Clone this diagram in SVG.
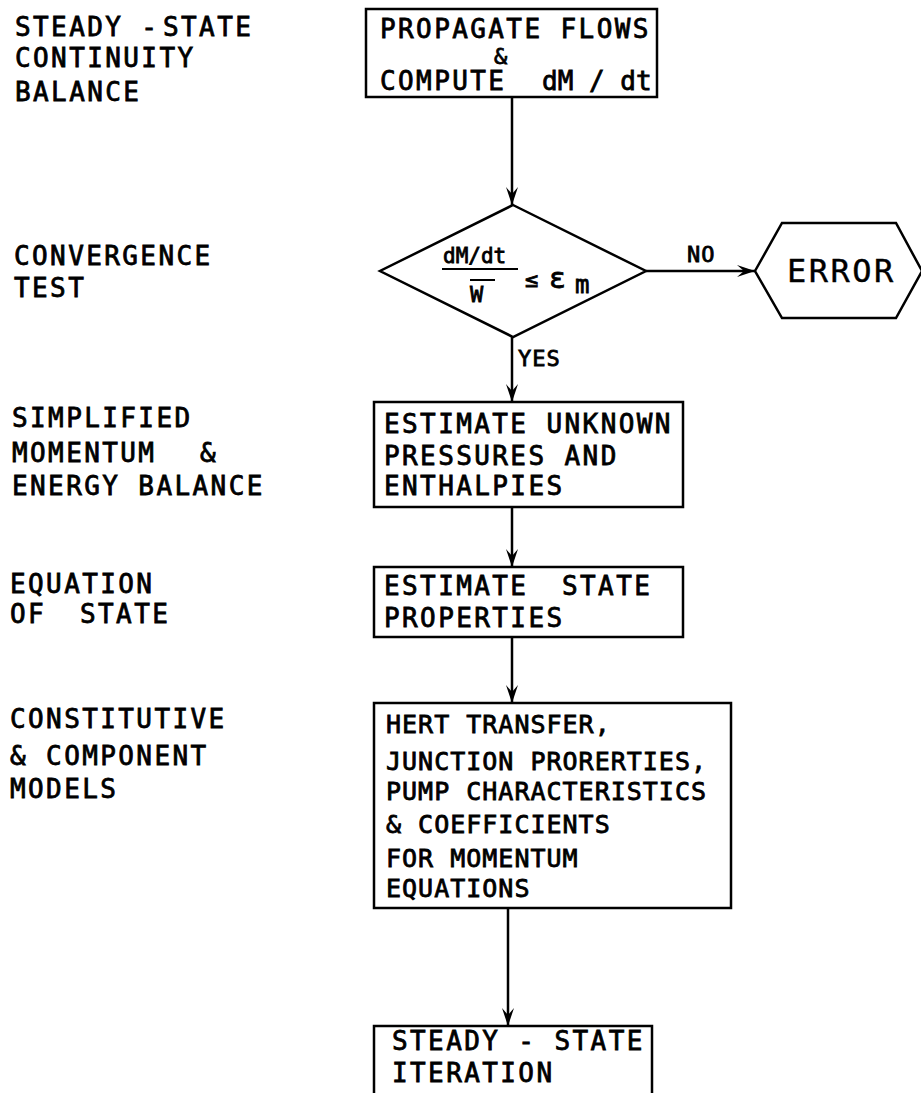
<svg xmlns="http://www.w3.org/2000/svg" width="921" height="1093" viewBox="0 0 921 1093">
  <style>
    .t { font-family: "DejaVu Sans Mono", "Liberation Mono", monospace; font-size: 26px; letter-spacing: 2.4px; fill: #000; stroke: #000; stroke-width: 0.8px; }
    .s { font-size: 25px; letter-spacing: 1px; }
    .box { fill: #fff; stroke: #000; stroke-width: 2.5; }
    .wire { fill: none; stroke: #000; stroke-width: 2.5; }
  </style>
  <defs>
    <marker id="arr" viewBox="0 -7 19 14" refX="18" refY="0" markerWidth="19" markerHeight="14" markerUnits="userSpaceOnUse" orient="auto">
      <path d="M0,-6 L18,0 L0,6 L7,0 Z" fill="#000"/>
    </marker>
  </defs>
  <rect width="921" height="1093" fill="#fff"/>

  <!-- stage labels down the left margin -->
  <g id="labels" class="t">
    <text x="15" y="36">STEADY -</text>
    <text x="163" y="36">STATE</text>
    <text x="15" y="67">CONTINUITY</text>
    <text x="15" y="101">BALANCE</text>
    <text x="14" y="265">CONVERGENCE</text>
    <text x="14" y="297">TEST</text>
    <text x="12" y="427">SIMPLIFIED</text>
    <text x="12" y="462">MOMENTUM</text>
    <text x="200" y="462">&amp;</text>
    <text x="12" y="495">ENERGY BALANCE</text>
    <text x="10" y="593">EQUATION</text>
    <text x="10" y="623">OF</text>
    <text x="80" y="623">STATE</text>
    <text x="10" y="728">CONSTITUTIVE</text>
    <text x="10" y="765">&amp; COMPONENT</text>
    <text x="10" y="798">MODELS</text>
  </g>

  <!-- connectors -->
  <g id="connectors">
    <line class="wire" x1="512" y1="97" x2="512" y2="205" marker-end="url(#arr)"/>
    <line class="wire" x1="646" y1="271" x2="755" y2="271" marker-end="url(#arr)"/>
    <line class="wire" x1="512" y1="337" x2="512" y2="402" marker-end="url(#arr)"/>
    <line class="wire" x1="512" y1="507" x2="512" y2="567" marker-end="url(#arr)"/>
    <line class="wire" x1="512" y1="637" x2="512" y2="703" marker-end="url(#arr)"/>
    <line class="wire" x1="508" y1="908" x2="508" y2="1026" marker-end="url(#arr)"/>
    <text class="t" x="687" y="262" style="font-size:22px;letter-spacing:1px">NO</text>
    <text class="t" x="518" y="366" style="font-size:22px;letter-spacing:1px">YES</text>
  </g>

  <g id="propagate">
    <rect class="box" x="366" y="9" width="291" height="88"/>
    <text class="t" x="380" y="38">PROPAGATE FLOWS</text>
    <text class="t" x="494" y="64" style="font-size:22px">&amp;</text>
    <text class="t" x="380" y="90">COMPUTE</text>
    <text class="t" x="542" y="90" style="letter-spacing:0px">dM / dt</text>
  </g>

  <g id="convergence">
    <polygon class="box" points="513,205 646,271 513,337 380,271"/>
    <text class="t" x="443" y="263" style="font-size:21px;letter-spacing:0px">dM/dt</text>
    <line x1="442" y1="269" x2="518" y2="269" stroke="#000" stroke-width="2.2"/>
    <line x1="470" y1="280" x2="495" y2="280" stroke="#000" stroke-width="2"/>
    <text class="t" x="470" y="302" style="font-size:22px;letter-spacing:0px">W</text>
    <text class="t" x="525" y="287" style="font-size:22px;letter-spacing:0px">≤</text>
    <text class="t" x="549" y="288" style="font-size:28px;letter-spacing:0px">ε</text>
    <text class="t" x="575" y="293" style="font-size:24px;letter-spacing:0px">m</text>
  </g>

  <g id="error">
    <polygon class="box" points="755,271 782,223 896,223 922,271 896,318 782,318"/>
    <text class="t" x="787" y="282" style="font-size:32px;letter-spacing:2.5px;stroke-width:0.4px">ERROR</text>
  </g>

  <g id="estimate-pressures">
    <rect class="box" x="374" y="402" width="309" height="105"/>
    <text class="t" x="384" y="433">ESTIMATE UNKNOWN</text>
    <text class="t" x="384" y="465">PRESSURES AND</text>
    <text class="t" x="384" y="495">ENTHALPIES</text>
  </g>

  <g id="estimate-state">
    <rect class="box" x="374" y="567" width="309" height="70"/>
    <text class="t" x="384" y="595">ESTIMATE</text>
    <text class="t" x="562" y="595">STATE</text>
    <text class="t" x="384" y="627">PROPERTIES</text>
  </g>

  <g id="models">
    <rect class="box" x="374" y="703" width="357" height="205"/>
    <g class="t s">
      <text x="386" y="733">HERT TRANSFER,</text>
      <text x="386" y="770">JUNCTION PRORERTIES,</text>
      <text x="386" y="800">PUMP CHARACTERISTICS</text>
      <text x="386" y="833">&amp; COEFFICIENTS</text>
      <text x="386" y="867">FOR MOMENTUM</text>
      <text x="386" y="897">EQUATIONS</text>
    </g>
  </g>

  <g id="iteration">
    <rect class="box" x="374" y="1026" width="278" height="80"/>
    <text class="t" x="392" y="1050">STEADY - STATE</text>
    <text class="t" x="392" y="1082">ITERATION</text>
  </g>
</svg>
